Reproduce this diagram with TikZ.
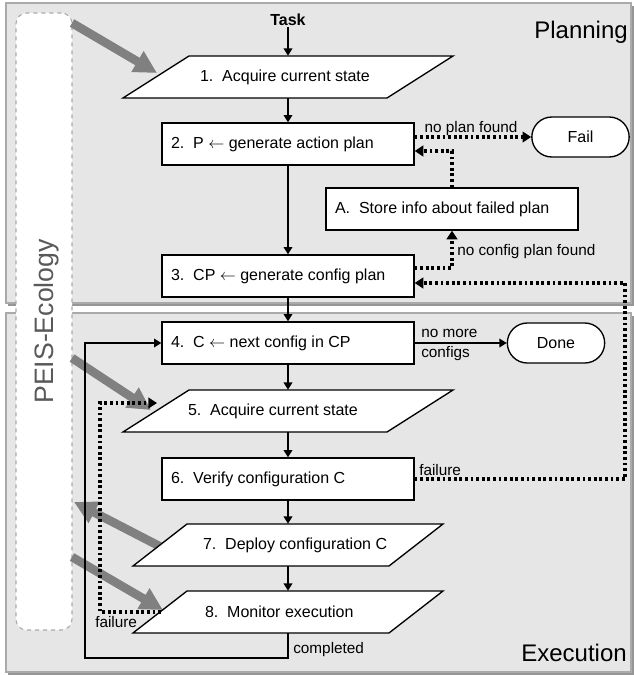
\documentclass[tikz,border=0pt]{standalone}
\usepackage{fontspec}
\setmainfont{Liberation Sans}
\usetikzlibrary{arrows.meta,calc,shapes.misc}
\pgfdeclarelayer{bg}
\pgfdeclarelayer{mid}
\pgfsetlayers{bg,mid,main}
\definecolor{panelfill}{RGB}{230,230,230}
\definecolor{panelline}{RGB}{170,170,170}
\definecolor{panelshadow}{RGB}{150,150,150}
\definecolor{bigarrow}{RGB}{128,128,128}
\definecolor{peistext}{RGB}{89,89,89}
\definecolor{peisline}{RGB}{170,170,170}
\newcommand\padtext[3]{\makebox[#1][l]{\hspace*{#2}#3}}
\begin{document}
\begin{tikzpicture}[x=0.75pt,y=-0.75pt,
  every node/.style={font=\fontsize{12}{14}\selectfont},
  box/.style={draw, line width=1pt, fill=white, inner sep=0pt, minimum height=31.5pt, minimum width=189pt},
  para/.style={inner sep=0pt, minimum height=31.5pt, minimum width=198pt},
  parashape/.style={draw, line width=1pt, fill=white},
  term/.style={draw, line width=1pt, fill=white, rounded rectangle, minimum height=30pt, minimum width=73pt, inner sep=0pt},
  flow/.style={line width=1.1pt, -{Triangle[length=5.5pt,width=6.5pt]}},
  dots/.style={line width=2.3pt, dash pattern=on 2.1pt off 2.1pt, -{Triangle[length=6.5pt,width=8pt]}},
  fat/.style={line width=6.5pt, draw=bigarrow, -{Triangle[length=17pt,width=17pt]}},
  lab/.style={font=\fontsize{11.5}{13}\selectfont, inner sep=0pt},
  panel/.style={fill=panelfill, draw=panelline, line width=1pt},
  big/.style={font=\fontsize{18}{20}\selectfont, inner sep=0pt},
  ]
\useasboundingbox (0,0) rectangle (634,675);

% panels and PEIS box
\begin{pgfonlayer}{bg}
  \fill[panelshadow] (8,6) rectangle (634,306);
  \draw[panel] (6,3) rectangle (631,303);
  \fill[panelshadow] (8,316) rectangle (634,675);
  \draw[panel] (6,313) rectangle (631,672);
  \node[draw=peisline, dashed, line width=0.8pt, rounded corners=8pt, fill=white,
        minimum width=42pt, minimum height=462.75pt, inner sep=0pt] (peis) at (44,321.5) {};
\end{pgfonlayer}

\node[big, rotate=90, anchor=base, text=peistext, font=\fontsize{20}{22}\selectfont] (peistxt) at (53.5,321.5) {PEIS-Ecology};
\node[big, anchor=base east] (planning) at (628,38) {Planning};
\node[big, anchor=base east] (execution) at (627,661) {Execution};

% nodes
\node[anchor=base, font=\bfseries\fontsize{12}{14}\selectfont, inner sep=1pt] (task) at (288,25) {Task};
\node[para] (n1) at (288,77) {\padtext{198pt}{33pt}{1.\ \ Acquire current state}};
\node[box] (n2) at (288,144) {\padtext{189pt}{6.75pt}{2.\ \ P $\leftarrow$ generate action plan}};
\node[box] (nA) at (452,209) {\padtext{189pt}{6.75pt}{A.\ \ Store info about failed plan}};
\node[box] (n3) at (288,276) {\padtext{189pt}{6.75pt}{3.\ \ CP $\leftarrow$ generate config plan}};
\node[term] (fail) at (580.5,137) {Fail};
\node[box] (n4) at (288,343) {\padtext{189pt}{6.75pt}{4.\ \ C $\leftarrow$ next config in CP}};
\node[term] (done) at (556,343) {Done};
\node[para] (n5) at (288,411) {\padtext{198pt}{24pt}{5.\ \ Acquire current state}};
\node[box] (n6) at (288,479) {\padtext{189pt}{6.75pt}{6.\ \ Verify configuration C}};
\node[para] (n7) at (288,545) {\padtext{198pt}{35.25pt}{7.\ \ Deploy configuration C}};
\node[para] (n8) at (288,612) {\padtext{198pt}{36.75pt}{8.\ \ Monitor execution}};

% helper coordinates
\coordinate (g1s) at (72,23);   \coordinate (g1e) at (157,73);
\coordinate (g2s) at (72,358);  \coordinate (g2e) at (151,410);
\coordinate (g3s) at (163,548); \coordinate (g3e) at (74,502);
\coordinate (g4s) at (72,557);  \coordinate (g4e) at (163,610);
\coordinate (c151) at (0,151);
\coordinate (c268) at (0,268);
\coordinate (fr) at (625,283);
\coordinate (loopc) at (85,658);
\coordinate (f8) at (161,612);
\coordinate (fl) at (100,403);
\coordinate (f5) at (157,403);

% parallelograms and big arrows
\begin{pgfonlayer}{mid}
  \draw[fat] (g1s) -- (g1e);
  \draw[fat] (g2s) -- (g2e);
  \draw[fat] (g3s) -- (g3e);
  \draw[fat] (g4s) -- (g4e);
  \foreach \n/\w/\s in {n1/132/33, n5/132/33, n7/128/27, n8/128/27}{
    \draw[parashape] ($(\n.center)+(-\w-\s,21)$) -- ($(\n.center)+(-\w+\s,-21)$)
      -- ($(\n.center)+(\w+\s,-21)$) -- ($(\n.center)+(\w-\s,21)$) -- cycle;
  }
\end{pgfonlayer}

% main flow
\draw[flow] (task) -- (n1.north);
\draw[flow] (n1.south) -- (n2.north);
\draw[flow] (n2.south) -- (n3.north);
\draw[flow] (n3.south) -- (n4.north);
\draw[flow] (n4.south) -- (n5.north);
\draw[flow] (n5.south) -- (n6.north);
\draw[flow] (n6.south) -- (n7.north);
\draw[flow] (n7.south) -- (n8.north);
\draw[flow] (n4.east) -- (done.west);
\draw[flow] (n8.south) |- (loopc) |- (n4.west);

% dotted connectors
\draw[dots] (n2.east |- fail.west) -- (fail.west);
\draw[dots] (nA.north) |- (n2.east |- c151);
\draw[dots] (n3.east |- c268) -| (nA.south);
\draw[dots] (n6.east) -| (fr) -- (n3.east |- fr);
\draw[dots] (f8) -| (fl) -- (f5);

% labels
\node[lab, anchor=base] (lnp) at (471,132) {no plan found};
\node[lab, anchor=base west] (lncp) at (457,255) {no config plan found};
\node[lab, anchor=base west] (lnm1) at (421,337) {no more};
\node[lab, anchor=base west] (lnm2) at (421,357) {configs};
\node[lab, anchor=base west] (lfr) at (419,475) {failure};
\node[lab, anchor=base west] (lfl) at (95,627) {failure};
\node[lab, anchor=base west] (lcomp) at (293,653) {completed};
\end{tikzpicture}
\end{document}
